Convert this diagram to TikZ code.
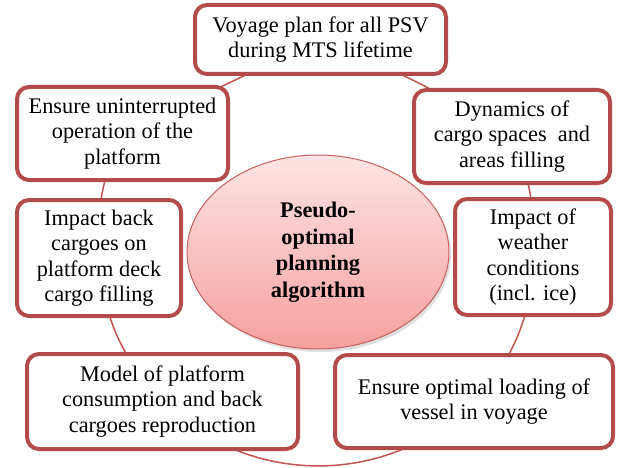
\documentclass[tikz,border=0pt]{standalone}
\usepackage{fontspec}
\setmainfont{Liberation Serif}
\usetikzlibrary{shapes.geometric,shadows,backgrounds}
\definecolor{boxred}{RGB}{178,75,73}
\definecolor{ringred}{RGB}{196,84,80}
\definecolor{pinktop}{RGB}{253,228,228}
\definecolor{pinkbot}{RGB}{246,160,159}
\definecolor{ellborder}{RGB}{200,96,93}
\tikzset{
  box/.style={draw=boxred, line width=4pt, rounded corners=12pt, fill=white,
    inner sep=0pt, align=center, font=\fontsize{22.3}{25.5}\selectfont},
  ring/.style={draw=ringred, line width=1.5pt},
  hub/.style={ellipse, draw=ellborder, line width=1pt, top color=pinktop, bottom color=pinkbot,
    inner sep=0pt, minimum width=262pt, minimum height=194pt, align=center,
    font=\fontsize{22.3}{26.5}\selectfont\bfseries,
    drop shadow={opacity=0.25, shadow xshift=2pt, shadow yshift=-3pt}}
}
\begin{document}
\begin{tikzpicture}[x=1pt,y=-1pt]
\useasboundingbox (0,0) rectangle (629,468);
\node[box, minimum width=251pt, minimum height=69pt] (top) at (320.5,39.5) {Voyage plan for all PSV\\during MTS lifetime};
\node[box, minimum width=211pt, minimum height=93pt] (ul) at (122.5,133.5) {Ensure uninterrupted\\operation of the\\platform};
\node[box, minimum width=164pt, minimum height=116pt] (ml) at (99,258) {Impact back\\cargoes on\\platform deck\\cargo filling};
\node[box, minimum width=196pt, minimum height=93pt] (ur) at (512,136.5) {Dynamics of\\cargo spaces\ \ and\\areas filling};
\node[box, minimum width=156pt, minimum height=116pt] (mr) at (533,257) {Impact of\\weather\\conditions\\(incl. ice)};
\node[box, minimum width=271pt, minimum height=95pt] (bl) at (162.5,401.5) {Model of platform\\consumption and back\\cargoes reproduction};
\node[box, minimum width=278pt, minimum height=93pt] (br) at (474,401.5) {Ensure optimal loading of\\vessel in voyage};
\node[hub] (hub) at (318,252) {Pseudo-\\optimal\\planning\\algorithm};
\begin{pgfonlayer}{background}
\draw[ring] (bl.center) to[bend right=45] (br.center);
\draw[ring] (br.center) to[bend right=20] (mr.center);
\draw[ring] (mr.center) to[bend right=13] (ur.center);
\draw[ring] (ur.center) to[bend right=5] (top.center);
\draw[ring] (top.center) -- (ul.center);
\draw[ring] (ul.center) to[bend right=14] (ml.center);
\draw[ring] (ml.center) to[bend right=19] (bl.center);
\end{pgfonlayer}
\end{tikzpicture}
\end{document}
